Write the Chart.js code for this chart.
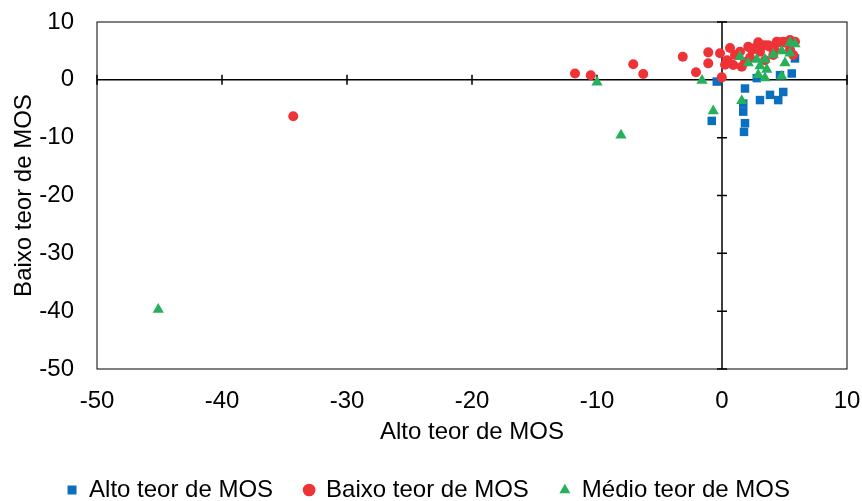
<!DOCTYPE html>
<html>
<head>
<meta charset="utf-8">
<script src="https://cdn.jsdelivr.net/npm/chart.js@4/dist/chart.umd.min.js"></script>
<style>
  html, body { margin: 0; padding: 0; background: #fff; }
  #wrap { width: 862px; height: 501px; }
</style>
</head>
<body>
<div id="wrap"><canvas id="mosChart" width="862" height="501"></canvas></div>
<script>
// --- Datos (x = Alto teor, y = Baixo teor) ---
const altoX = [-0.82, -0.42, 1.84, 1.70, 1.70, 1.84, 1.76, 3.04, 3.84, 4.50, 4.90, 2.78, 4.64, 5.58, 5.84];
const altoY = [-7.1, -0.3, -1.5, -4.1, -5.5, -7.5, -9.0, -3.5, -2.6, -3.5, -2.1, 0.3, 0.8, 1.1, 3.7];

const baixoX = [-34.3, -11.76, -10.5, -7.1, -6.3, -3.14, -2.08, -1.1, -1.1, -0.16, 0.24, -0.02, 1.04, 0.9, 1.58,
                2.1, 1.44, 3.04, 3.84, 4.38, 4.9, 5.44, 5.84, 3.44, 5.7, 4.1, 2.64, 3.4, 4.6, 5.1, 2.24,
                0.48, 1.84, 2.4, 2.9, 3.7, 4.2, 5.44, 0.64, 0.4];
const baixoY = [-6.3, 1.1, 0.8, 2.7, 1.0, 4.0, 1.3, 4.75, 2.85, 4.6, 2.6, 0.43, 4.3, 2.56, 2.27,
                5.7, 4.86, 4.86, 5.7, 6.6, 6.6, 6.9, 6.6, 3.4, 4.3, 4.3, 5.5, 6.0, 6.5, 6.4, 3.8,
                3.1, 3.1, 5.2, 6.5, 6.0, 5.2, 5.2, 5.5, 3.4];

const medioX = [-45.1, -10.0, -8.08, -1.6, -0.7, 1.58, 1.44, 2.1, 2.78, 2.9, 3.44, 3.44, 3.58, 4.1, 4.78, 4.78,
                5.04, 5.44, 5.84, 5.44, 3.04];
const medioY = [-39.7, -0.43, -9.6, -0.1, -5.4, -3.6, 4.0, 2.9, 3.5, 0.9, 0.3, 3.5, 1.8, 4.4, 5.0, 0.6,
                2.9, 6.4, 6.2, 4.6, 2.4];

const axisTicks = [-50, -40, -30, -20, -10, 0, 10];

const toPoints = (xs, ys) => xs.map((v, i) => ({ x: v, y: ys[i] }));

// Ejes que se cruzan en el cero, con marcas cruzadas, y marco del área
const crossAxes = {
    id: 'crossAxes',
    beforeDatasetsDraw(chart) {
        const { ctx, chartArea: a, scales: { x, y } } = chart;
        const x0 = x.getPixelForValue(0);
        const y0 = y.getPixelForValue(0);
        ctx.save();
        ctx.strokeStyle = '#000';
        ctx.lineWidth = 1;
        ctx.strokeRect(a.left, a.top, a.width, a.height);
        ctx.lineWidth = 1.5;
        ctx.beginPath();
        ctx.moveTo(a.left, y0); ctx.lineTo(a.right, y0);
        ctx.moveTo(x0, a.top); ctx.lineTo(x0, a.bottom);
        axisTicks.forEach(v => {
            const px = x.getPixelForValue(v);
            ctx.moveTo(px, y0 - 5); ctx.lineTo(px, y0 + 5);
            const py = y.getPixelForValue(v);
            ctx.moveTo(x0 - 5, py); ctx.lineTo(x0 + 5, py);
        });
        ctx.stroke();
        ctx.restore();
    }
};

Chart.defaults.font.family = '"Liberation Sans", Arial, sans-serif';
Chart.defaults.font.size = 24;
Chart.defaults.color = '#000';

const ctx = document.getElementById('mosChart').getContext('2d');
const mosChart = new Chart(ctx, {
    type: 'scatter',
    data: {
        datasets: [{
            label: 'Alto teor de MOS',
            data: toPoints(altoX, altoY),
            pointStyle: 'rect',
            pointRadius: 6,
            pointHoverRadius: 6,
            backgroundColor: '#0B6FBF',
            borderColor: '#0B6FBF',
            borderWidth: 0,
            order: 3
        }, {
            label: 'Baixo teor de MOS',
            data: toPoints(baixoX, baixoY),
            pointStyle: 'circle',
            pointRadius: 5,
            pointHoverRadius: 5,
            backgroundColor: '#EE3236',
            borderColor: '#EE3236',
            borderWidth: 0,
            order: 2
        }, {
            label: 'Médio teor de MOS',
            data: toPoints(medioX, medioY),
            pointStyle: 'triangle',
            pointRadius: 6.5,
            pointHoverRadius: 6.5,
            backgroundColor: '#27B05C',
            borderColor: '#27B05C',
            borderWidth: 0,
            order: 1
        }]
    },
    options: {
        responsive: false,
        animation: false,
        layout: { padding: { top: 22, right: 15, bottom: -11, left: 10 } },
        scales: {
            x: {
                type: 'linear',
                min: -50,
                max: 10,
                grid: { display: false, drawTicks: false },
                border: { display: false },
                ticks: { stepSize: 10, padding: 18 },
                title: { display: true, text: 'Alto teor de MOS', padding: { top: 0, bottom: 0 } },
                afterFit(scale) {
                    scale.height = 78;
                    scale.paddingLeft = 0;
                    scale.paddingRight = 0;
                }
            },
            y: {
                type: 'linear',
                min: -50,
                max: 10,
                grid: { display: false, drawTicks: false },
                border: { display: false },
                ticks: { stepSize: 10, padding: 23 },
                title: { display: true, text: 'Baixo teor de MOS', padding: { top: -0.4, bottom: 0 } },
                afterFit(scale) {
                    scale.width = 87;
                    scale.paddingTop = 0;
                    scale.paddingBottom = 0;
                }
            }
        },
        plugins: {
            legend: {
                position: 'bottom',
                labels: {
                    usePointStyle: true,
                    boxWidth: 10,
                    boxHeight: 9,
                    padding: 31,
                    sort: (a, b) => a.datasetIndex - b.datasetIndex
                }
            },
            tooltip: { enabled: false }
        }
    },
    plugins: [crossAxes]
});
</script>
</body>
</html>
